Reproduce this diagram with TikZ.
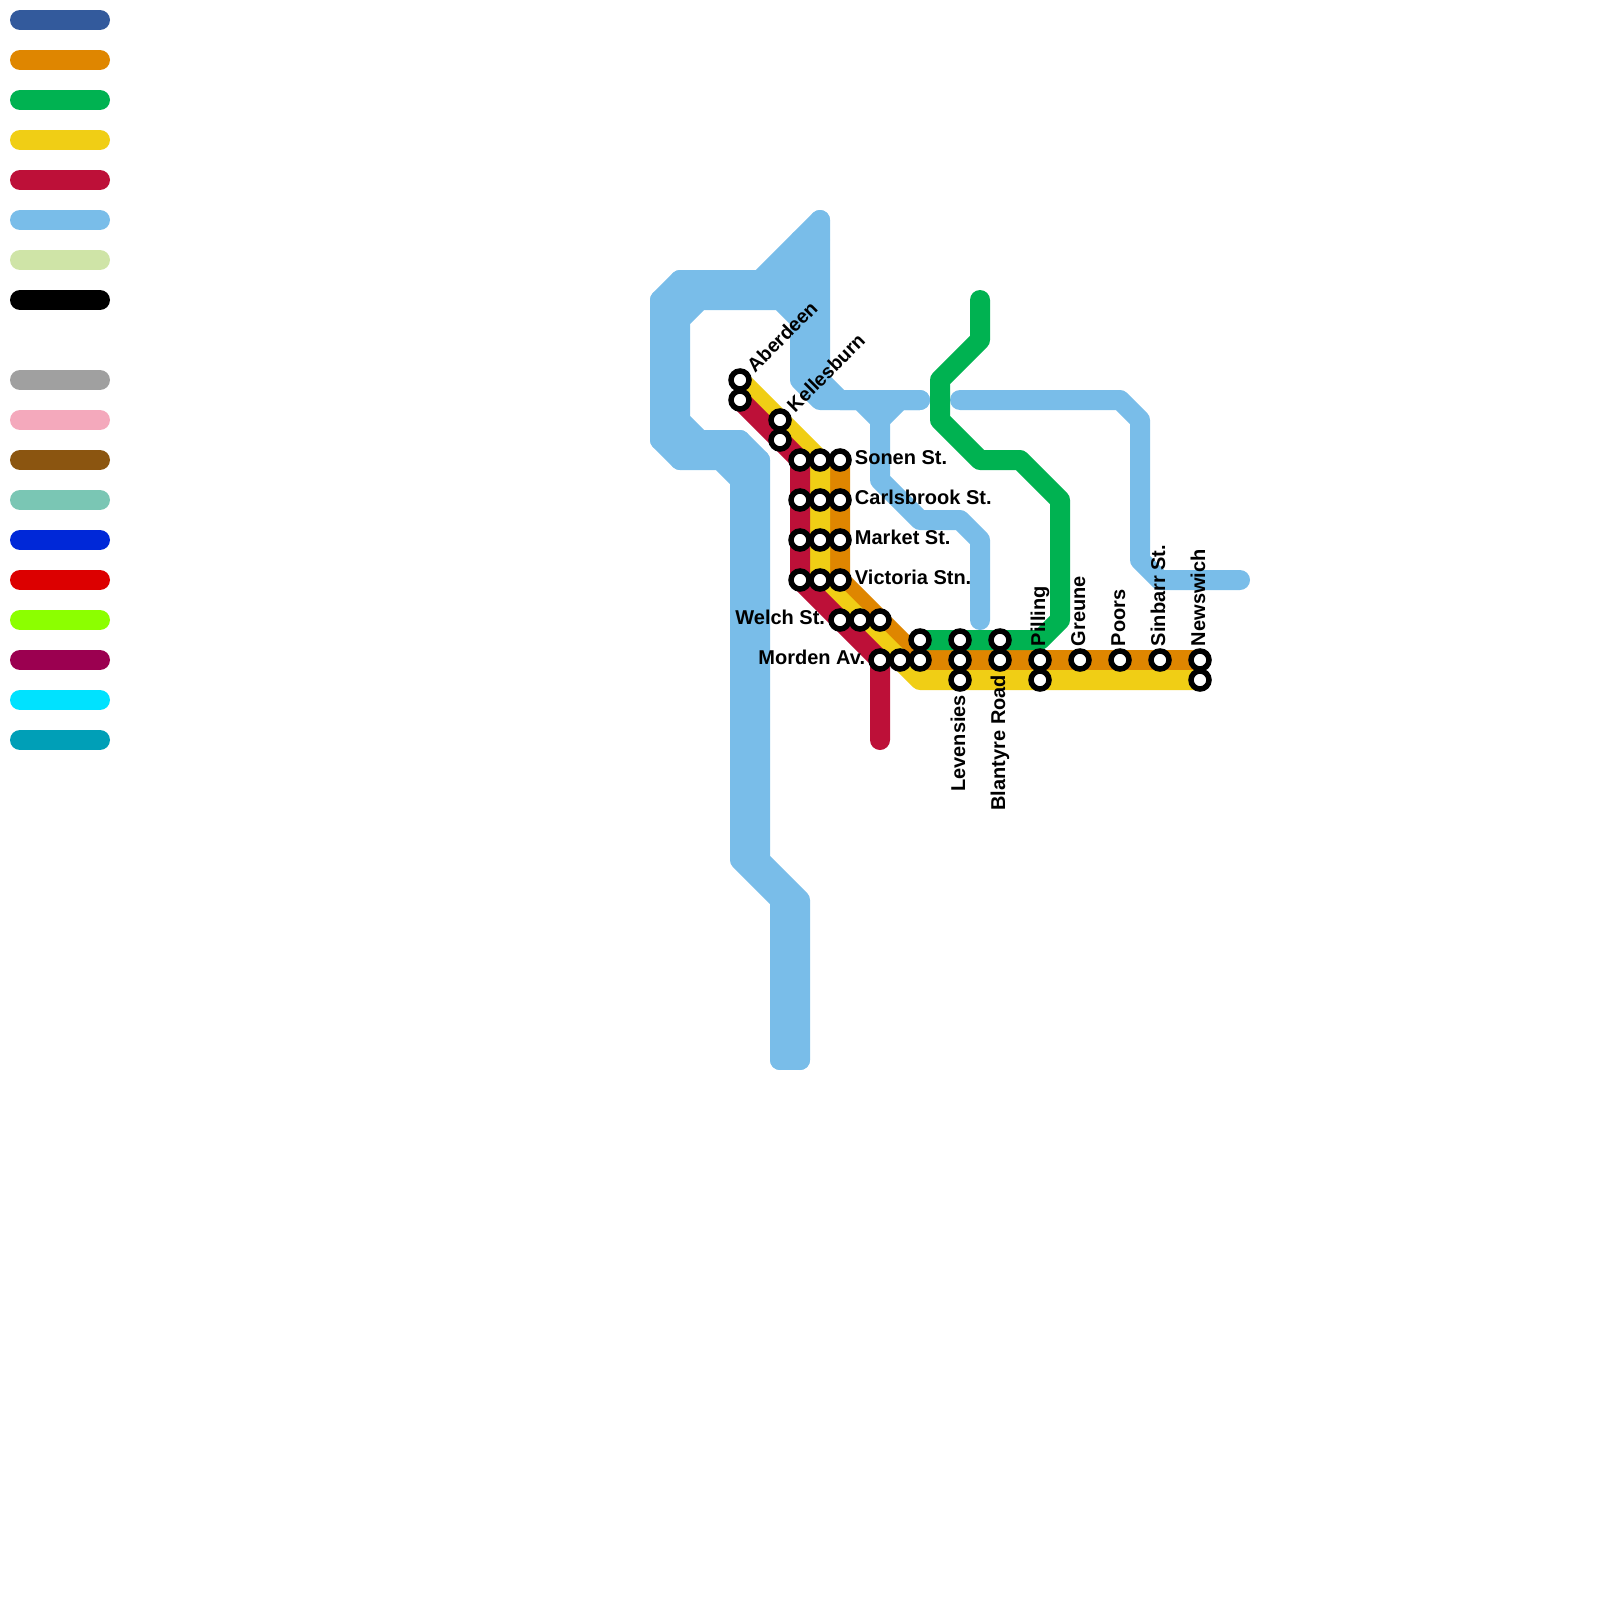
\documentclass[tikz,border=0pt]{standalone}
\usepackage{fontspec}
\setmainfont{Liberation Sans}
\usetikzlibrary{
  positioning,
  backgrounds
}
\definecolor{navyline}{HTML}{335A9C}
\definecolor{orangeline}{HTML}{DF8600}
\definecolor{greenline}{HTML}{00B251}
\definecolor{yellowline}{HTML}{F0CE15}
\definecolor{redline}{HTML}{BD1038}
\definecolor{skyline}{HTML}{79BDE9}
\definecolor{paleline}{HTML}{CFE4A7}
\definecolor{greyline}{HTML}{A0A0A0}
\definecolor{pinkline}{HTML}{F4A9BC}
\definecolor{brownline}{HTML}{8B5510}
\definecolor{tealline}{HTML}{7AC6B4}
\definecolor{blueline}{HTML}{0028D8}
\definecolor{vividline}{HTML}{DC0000}
\definecolor{limeline}{HTML}{8CFF00}
\definecolor{plumline}{HTML}{9B0050}
\definecolor{cyanline}{HTML}{00E2FF}
\definecolor{oceanline}{HTML}{009FB7}

\begin{document}
\begin{tikzpicture}[
  x=1pt,
  y=-1pt,
  route/.style={
    line width=20pt,
    line cap=round,
    line join=round
  },
  station/.style={
    circle,
    draw=black,
    fill=white,
    line width=5.5pt,
    inner sep=0pt,
    minimum size=18pt
  },
  lbl/.style={
    font=\bfseries\fontsize{20}{24}\selectfont,
    inner sep=0pt,
    text height=14pt,
    text depth=0pt
  },
  lblup/.style={
    lbl,
    xshift=-2pt,
    yshift=2pt,
    rotate=90,
    anchor=west
  },
  lbldown/.style={
    lbl,
    xshift=-2pt,
    yshift=-3pt,
    rotate=90,
    anchor=east
  },
  lbldiag/.style={
    lbl,
    font=\bfseries\fontsize{19.5}{24}\selectfont,
    xshift=15pt,
    yshift=6.5pt,
    rotate=45,
    anchor=base west
  }
]
\useasboundingbox (0,0) rectangle (1600,1600);

\node[station] (aberdeen1) at (740,380) {};
\node[station] (aberdeen2) at (740,400) {};
\node[station] (kellesburn1) at (780,420) {};
\node[station] (kellesburn2) at (780,440) {};
\node[station] (sonen1) at (800,460) {};
\node[station] (sonen2) at (820,460) {};
\node[station] (sonen3) at (840,460) {};
\node[station] (carlsbrook1) at (800,500) {};
\node[station] (carlsbrook2) at (820,500) {};
\node[station] (carlsbrook3) at (840,500) {};
\node[station] (market1) at (800,540) {};
\node[station] (market2) at (820,540) {};
\node[station] (market3) at (840,540) {};
\node[station] (victoria1) at (800,580) {};
\node[station] (victoria2) at (820,580) {};
\node[station] (victoria3) at (840,580) {};
\node[station] (welch1) at (840,620) {};
\node[station] (welch2) at (860,620) {};
\node[station] (welch3) at (880,620) {};
\node[station] (morden1) at (880,660) {};
\node[station] (morden2) at (900,660) {};
\node[station] (morden3) at (920,660) {};
\node[station] (morden4) at (920,640) {};
\node[station] (levensies1) at (960,640) {};
\node[station] (levensies2) at (960,660) {};
\node[station] (levensies3) at (960,680) {};
\node[station] (blantyre1) at (1000,640) {};
\node[station] (blantyre2) at (1000,660) {};
\node[station] (pilling1) at (1040,660) {};
\node[station] (pilling2) at (1040,680) {};
\node[station] (greune) at (1080,660) {};
\node[station] (poors) at (1120,660) {};
\node[station] (sinbarr) at (1160,660) {};
\node[station] (newswich1) at (1200,660) {};
\node[station] (newswich2) at (1200,680) {};

\node[lbldiag] (aberdeenlbl) at (aberdeen1) {Aberdeen};
\node[lbldiag] (kellesburnlbl) at (kellesburn1) {Kellesburn};
\node[lbl,right=3pt of sonen3,yshift=2.5pt] (sonenlbl) {Sonen St.};
\node[lbl,right=3pt of carlsbrook3,yshift=2.5pt] (carlsbrooklbl) {Carlsbrook St.};
\node[lbl,right=3pt of market3,yshift=2.5pt] (marketlbl) {Market St.};
\node[lbl,right=3pt of victoria3,yshift=2.5pt] (victorialbl) {Victoria Stn.};
\node[lbl,left=3pt of welch1,yshift=2.5pt] (welchlbl) {Welch St.};
\node[lbl,left=3pt of morden1,yshift=2.5pt] (mordenlbl) {Morden Av.};
\node[lbldown] (levensieslbl) at (levensies3.south) {Levensies};
\node[lbldown] (blantyrelbl) at (blantyre2.south) {Blantyre Road};
\node[lblup] (pillinglbl) at (pilling1.north) {Pilling};
\node[lblup] (greunelbl) at (greune.north) {Greune};
\node[lblup] (poorslbl) at (poors.north) {Poors};
\node[lblup] (sinbarrlbl) at (sinbarr.north) {Sinbarr St.};
\node[lblup] (newswichlbl) at (newswich1.north) {Newswich};

\coordinate (skyapex) at (820,220);
\coordinate (skystub) at (800,240);
\coordinate (skyfoot1) at (780,1060);
\coordinate (skyfoot2) at (800,1060);
\coordinate (skyend1) at (920,400);
\coordinate (skyend2) at (980,620);
\coordinate (skyend3) at (960,400);
\coordinate (skyend4) at (1240,580);
\coordinate (greentop) at (980,300);
\coordinate (redfoot) at (880,740);

\begin{scope}[on background layer]
\draw[route,navyline] (20,20) -- (100,20);
\draw[route,orangeline] (20,60) -- (100,60);
\draw[route,greenline] (20,100) -- (100,100);
\draw[route,yellowline] (20,140) -- (100,140);
\draw[route,redline] (20,180) -- (100,180);
\draw[route,skyline] (20,220) -- (100,220);
\draw[route,paleline] (20,260) -- (100,260);
\draw[route,black] (20,300) -- (100,300);
\draw[route,greyline] (20,380) -- (100,380);
\draw[route,pinkline] (20,420) -- (100,420);
\draw[route,brownline] (20,460) -- (100,460);
\draw[route,tealline] (20,500) -- (100,500);
\draw[route,blueline] (20,540) -- (100,540);
\draw[route,vividline] (20,580) -- (100,580);
\draw[route,limeline] (20,620) -- (100,620);
\draw[route,plumline] (20,660) -- (100,660);
\draw[route,cyanline] (20,700) -- (100,700);
\draw[route,oceanline] (20,740) -- (100,740);

\draw[route,skyline] (skyapex) -- (760,280) -- (680,280) -- (660,300)
  -- (660,440) -- (680,460) -- (720,460) -- (740,480) -- (740,860)
  -- (780,900) -- (skyfoot1);
\draw[route,skyline] (skystub) -- (800,320);
\draw[route,skyline] (760,280) -- (800,280);
\draw[route,skyline] (820,240) -- (780,280);
\draw[route,skyline] (820,260) -- (780,300);
\draw[route,skyline] (skyfoot2) -- (800,900) -- (760,860) -- (760,460)
  -- (740,440) -- (700,440) -- (680,420) -- (680,320) -- (700,300)
  -- (780,300) -- (800,320) -- (800,380) -- (820,400) -- (860,400)
  -- (880,420) -- (880,480) -- (920,520) -- (960,520) -- (980,540)
  -- (skyend2);
\draw[route,skyline] (skyapex) -- (820,380) -- (840,400) -- (skyend1);
\draw[route,skyline] (skyend1) -- (900,400) -- (880,420);
\draw[route,skyline] (skyend3) -- (1120,400) -- (1140,420) -- (1140,560)
  -- (1160,580) -- (skyend4);
\draw[route,skyline] (660,300) -- (700,300);
\draw[route,skyline] (680,280) -- (680,320);
\draw[route,skyline] (660,440) -- (700,440);
\draw[route,skyline] (680,420) -- (680,460);
\draw[route,skyline] (720,460) -- (760,460);
\draw[route,skyline] (740,440) -- (740,480);
\draw[route,skyline] (skyfoot1) -- (skyfoot2);

\draw[route,orangeline] (sonen3.center) -- (victoria3.center)
  -- (welch3.center) -- (morden3.center) -- (newswich1.center);
\draw[route,greenline] (greentop) -- (980,340) -- (940,380) -- (940,420)
  -- (980,460) -- (1020,460) -- (1060,500) -- (1060,620) -- (1040,640)
  -- (morden4.center);
\draw[route,yellowline] (aberdeen1.center) -- (sonen2.center)
  -- (victoria2.center) -- (welch2.center) -- (morden2.center)
  -- (920,680) -- (newswich2.center);
\draw[route,redline] (aberdeen2.center) -- (sonen1.center)
  -- (victoria1.center) -- (welch1.center) -- (morden1.center) -- (redfoot);
\end{scope}

\end{tikzpicture}
\end{document}
